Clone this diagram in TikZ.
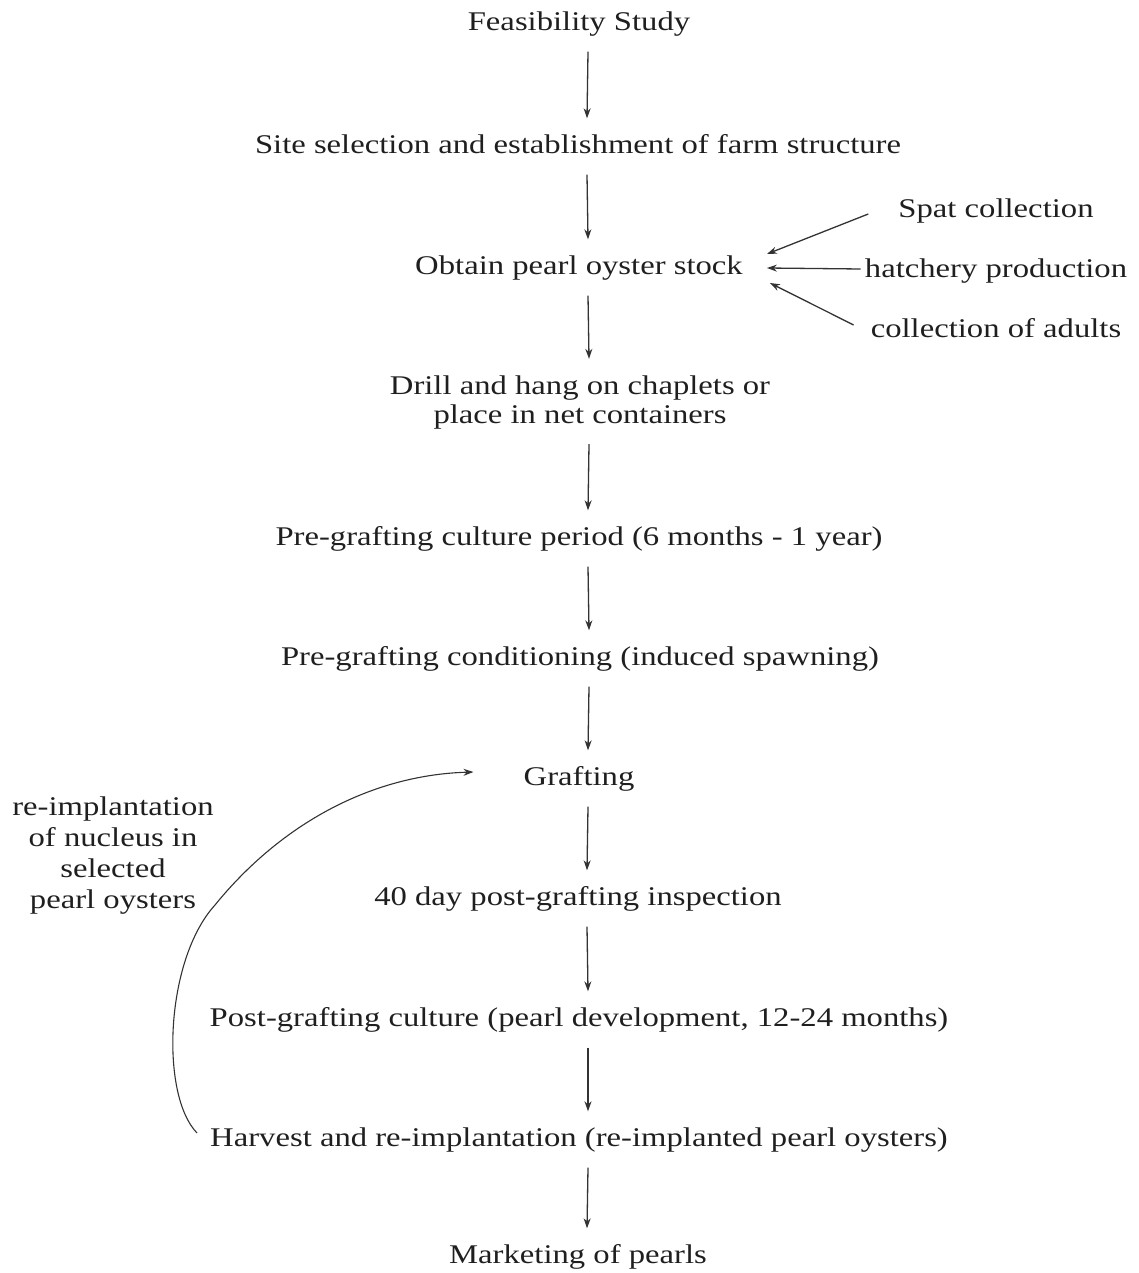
\documentclass[tikz,border=0pt]{standalone}
\usepackage{fontspec}
\usepackage{graphicx}
\setmainfont{Liberation Serif}
\usetikzlibrary{arrows.meta}
\newcommand{\Tx}[2][29]{\scalebox{1.21}[1]{\fontsize{27}{#1}\selectfont\begin{tabular}{@{}c@{}}#2\end{tabular}}}
\begin{document}
\begin{tikzpicture}[x=1pt,y=-1pt,
  every node/.style={inner sep=0pt, text=black!88},
  flow/.style={draw=black!80, line width=1.3pt, -{Stealth[length=10pt,width=7pt]}},
  side/.style={draw=black!80, line width=1.3pt, -{Stealth[length=10pt,width=7pt]}}]
\useasboundingbox (0,0) rectangle (1139,1273);
\node (n1) at (579,25) {\Tx{Feasibility Study}};
\node (n2) at (578,148) {\Tx{Site selection and establishment of farm structure}};
\node (n3) at (579,269) {\Tx{Obtain pearl oyster stock}};
\node (n4) at (580,403) {\Tx{Drill and hang on chaplets or\\place in net containers}};
\node (n5) at (579,540) {\Tx{Pre-grafting culture period (6 months - 1 year)}};
\node (n6) at (580,660) {\Tx{Pre-grafting conditioning (induced spawning)}};
\node (n7) at (579,780) {\Tx{Grafting}};
\node (n8) at (578,900) {\Tx{40 day post-grafting inspection}};
\node (n9) at (579,1021) {\Tx{Post-grafting culture (pearl development, 12-24 months)}};
\node (n10) at (579,1141) {\Tx{Harvest and re-implantation (re-implanted pearl oysters)}};
\node (n11) at (578,1258) {\Tx{Marketing of pearls}};
\node (s1) at (996,212) {\Tx{Spat collection}};
\node (s2) at (996,272) {\Tx{hatchery production}};
\node (s3) at (996,332) {\Tx{collection of adults}};
\node (lab) at (113,856) {\Tx[31]{re-implantation\\of nucleus in\\selected\\pearl oysters}};
\foreach \a/\b in {n1/n2, n2/n3, n3/n4, n4/n5, n5/n6, n6/n7, n7/n8, n8/n9, n9/n10, n10/n11}
  \draw[flow] ([xshift=9pt,yshift=-12pt]\a.south) -- ([xshift=9pt,yshift=15pt]\b.north);
\draw[side] ([xshift=-30pt,yshift=-2pt]s1.west) -- ([xshift=24pt,yshift=15pt]n3.east);
\draw[side] ([xshift=-4pt,yshift=3pt]s2.west) -- ([xshift=24pt,yshift=1pt]n3.east);
\draw[side] ([xshift=-17pt,yshift=7pt]s3.west) -- ([xshift=27pt,yshift=-14pt]n3.east);
\draw[flow, line width=1.1pt] ([xshift=-13pt,yshift=8pt]n10.west) .. controls (160,1095) and (165,960) .. (215,905)
  .. controls (280,825) and (370,775) .. ([xshift=-50pt,yshift=8pt]n7.west);
\end{tikzpicture}
\end{document}
